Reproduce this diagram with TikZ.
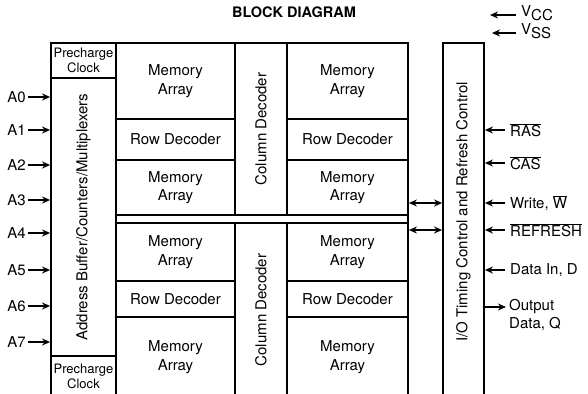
\documentclass[tikz,border=0pt]{standalone}
\usepackage{fontspec}
\setmainfont{TeX Gyre Heros}
\usetikzlibrary{arrows.meta}
\tikzset{
    blk/.style = {draw, line width=1.8pt, inner sep=0pt, align=center, font=\fontsize{15}{18.5}\selectfont},
    small/.style = {font=\fontsize{13}{14.5}\selectfont},
    sigtxt/.style = {inner sep=2pt, font=\fontsize{15}{18}\selectfont},
    sig/.style = {line width=1.4pt, -{Stealth[length=8pt, width=7pt]}},
    bus/.style = {line width=1.4pt, {Stealth[length=8pt, width=7pt]}-{Stealth[length=8pt, width=7pt]}}
}

\begin{document}
\begin{tikzpicture}[x=1pt, y=-1pt]
        \useasboundingbox (0,0) rectangle (588,393);
        \clip (0,0) rectangle (588,393);
        % title
        \node[font=\bfseries\fontsize{14.5}{17}\selectfont] (title) at (294,12) {BLOCK DIAGRAM};
        % chip outline, precharge clocks and address buffer
        \node[blk, minimum width=357, minimum height=354] (chip) at (229.5,220) {};
        \node[blk, small, minimum width=65, minimum height=35] (pchtop) at (83.5,60.5) {Precharge\\Clock};
        \node[blk, rotate=90, minimum width=278, minimum height=65] (addr) at (83.5,217) {Address Buffer/Counters/Multiplexers};
        \node[blk, small, minimum width=65, minimum height=41] (pchbot) at (83.5,376.5) {Precharge\\Clock};
        % memory arrays and row decoders on both sides of the column decoders
        \foreach \cx/\bw/\side in {175.5/119/l, 347.5/121/r}{
            \node[blk, minimum width=\bw, minimum height=76] (mem\side1) at (\cx,81) {Memory\\Array};
            \node[blk, minimum width=\bw, minimum height=41] (row\side1) at (\cx,139.5) {Row Decoder};
            \node[blk, minimum width=\bw, minimum height=55] (mem\side2) at (\cx,187.5) {Memory\\Array};
            \node[blk, minimum width=\bw, minimum height=58] (mem\side3) at (\cx,252) {Memory\\Array};
            \node[blk, minimum width=\bw, minimum height=36] (row\side2) at (\cx,299) {Row Decoder};
            \node[blk, minimum width=\bw, minimum height=80] (mem\side4) at (\cx,357) {Memory\\Array};
        }
        \node[blk, rotate=90, minimum width=172, minimum height=52] (coltop) at (261,129) {Column Decoder};
        \node[blk, rotate=90, minimum width=174, minimum height=52] (colbot) at (261,310) {Column Decoder};
        % I/O timing block
        \node[blk, minimum width=41, minimum height=354] (io) at (463.5,220) {};
        \node[rotate=90, font=\fontsize{15}{18}\selectfont] (iotxt) at (463.5,212) {I/O Timing Control and Refresh Control};
        % address inputs
        \foreach \i/\y in {0/97, 1/130, 2/165, 3/200, 4/233, 5/270, 6/306, 7/342}{
            \node[sigtxt, anchor=east] (a\i) at (28,\y) {A\i};
            \draw[sig] (a\i.east) -- (a\i.east -| chip.west);
        }
        % supply pins
        \coordinate (vcctip) at (490,15);
        \coordinate (vsstip) at (492,33);
        \node[sigtxt, anchor=west, inner xsep=5pt] (vcc) at (516,13) {V\raisebox{-4pt}{CC}};
        \node[sigtxt, anchor=west, inner xsep=5pt] (vss) at (516,31) {V\raisebox{-4pt}{SS}};
        \draw[sig] (vcc.west |- vcctip) -- (vcctip);
        \draw[sig] (vss.west |- vsstip) -- (vsstip);
        % control inputs
        \node[sigtxt, anchor=west, inner xsep=5pt] (ras) at (505,130) {$\overline{\mbox{RAS}}$};
        \node[sigtxt, anchor=west, inner xsep=5pt] (cas) at (505,163) {$\overline{\mbox{CAS}}$};
        \node[sigtxt, anchor=west, inner xsep=5pt] (wr) at (505,203) {Write, $\overline{\mbox{W}}$};
        \node[sigtxt, anchor=west, inner xsep=5pt] (rfsh) at (505,230) {$\overline{\mbox{REFRESH}}$};
        \node[sigtxt, anchor=west, inner xsep=5pt] (din) at (505,270) {Data In, D};
        \foreach \n in {ras, cas, wr, rfsh, din}{
            \draw[sig] (\n.west) -- (\n.west -| io.east);
        }
        % data output
        \node[sigtxt, anchor=north west, align=left, inner xsep=5pt] (dq) at (504,297) {Output\\Data, Q};
        \coordinate (dqout) at (506,307);
        \draw[sig] (dqout -| io.east) -- (dqout);
        % data paths between arrays and I/O
        \draw[bus] (wr -| chip.east) -- (wr -| io.west);
        \draw[bus] (rfsh -| chip.east) -- (rfsh -| io.west);
    \end{tikzpicture}
\end{document}
